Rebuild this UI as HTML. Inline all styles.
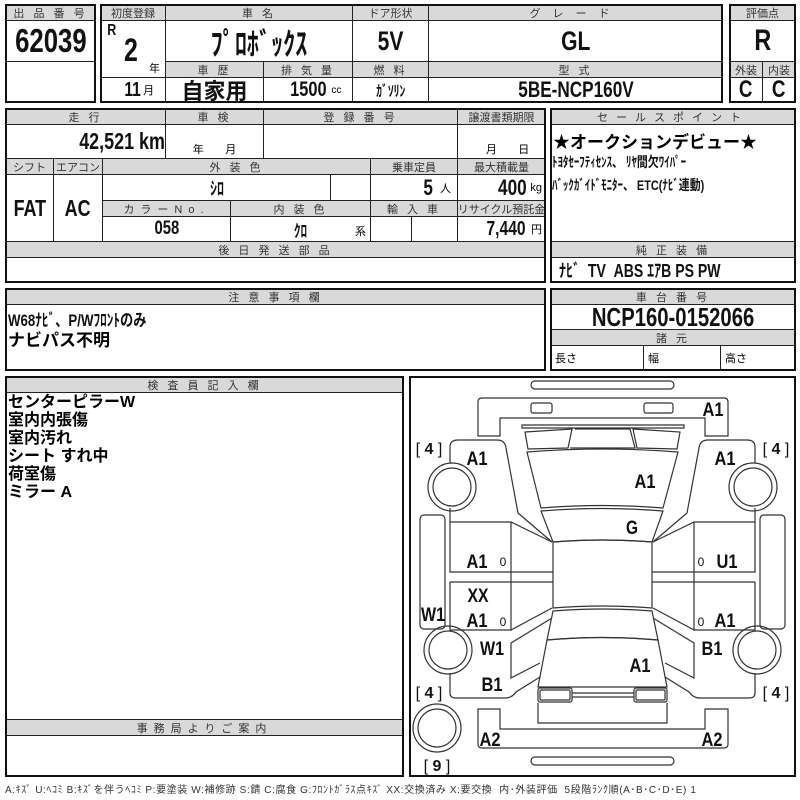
<!DOCTYPE html>
<html><head><meta charset="utf-8"><style>
body{margin:0;background:#fff;width:800px;height:800px;position:relative;overflow:hidden;font-family:"Liberation Sans","Noto Sans CJK JP",sans-serif;}
.c,.h{position:absolute;box-sizing:border-box;border:1px solid #222;display:flex;align-items:center;justify-content:center;white-space:nowrap;}
.h{background:#d9d9d9;font-size:11px;color:#333;letter-spacing:3px;}
.f{position:absolute;box-sizing:border-box;border:2px solid #111;}
.b{font-weight:bold;color:#111;}
i{font-style:normal;display:inline-block;transform:scaleX(.78);}
.t{position:absolute;white-space:nowrap;}
</style></head><body>
<!-- block1 -->
<div class="h" style="left:5px;top:4px;width:91px;height:17px">出 品 番 号</div>
<div class="c b" style="left:5px;top:20px;width:91px;height:42px;font-size:33px"><i>62039</i></div>
<div class="c" style="left:5px;top:61px;width:91px;height:42px"></div>
<div class="f" style="left:5px;top:4px;width:91px;height:99px"></div>
<!-- block2 -->
<div class="h" style="left:100px;top:4px;width:66px;height:17px;letter-spacing:0">初度登録</div>
<div class="h" style="left:165px;top:4px;width:188px;height:17px">車 名</div>
<div class="h" style="left:352px;top:4px;width:77px;height:17px;letter-spacing:0">ドア形状</div>
<div class="h" style="left:428px;top:4px;width:295px;height:17px;letter-spacing:12px">グレード</div>
<div class="c" style="left:100px;top:20px;width:66px;height:58px"></div>
<div class="t b" style="left:106px;top:22px;font-size:16px"><i>R</i></div>
<div class="t b" style="left:122px;top:32px;font-size:32px"><i>2</i></div>
<div class="t" style="left:149px;top:60px;font-size:11px">年</div>
<div class="c b" style="left:165px;top:20px;width:188px;height:42px;font-size:31px"><i>ﾌﾟﾛﾎﾞｯｸｽ</i></div>
<div class="c b" style="left:352px;top:20px;width:77px;height:42px;font-size:27px"><i>5V</i></div>
<div class="c b" style="left:428px;top:20px;width:295px;height:42px;font-size:27px"><i>GL</i></div>
<div class="h" style="left:165px;top:61px;width:99px;height:17px">車 歴</div>
<div class="h" style="left:263px;top:61px;width:90px;height:17px">排 気 量</div>
<div class="h" style="left:352px;top:61px;width:77px;height:17px">燃 料</div>
<div class="h" style="left:428px;top:61px;width:295px;height:17px">型 式</div>
<div class="c" style="left:100px;top:77px;width:66px;height:26px;padding-left:10px"><span class="b" style="font-size:20px"><i>11</i></span><span style="font-size:11px">月</span></div>
<div class="c b" style="left:165px;top:77px;width:99px;height:26px;font-size:22px">自家用</div>
<div class="c" style="left:263px;top:77px;width:90px;height:26px;padding-left:10px"><span class="b" style="font-size:21px"><i>1500</i></span><span style="font-size:10px">cc</span></div>
<div class="c b" style="left:352px;top:77px;width:77px;height:26px;font-size:15px"><i>ｶﾞｿﾘﾝ</i></div>
<div class="c b" style="left:428px;top:77px;width:295px;height:26px;font-size:22px"><i>5BE-NCP160V</i></div>
<div class="f" style="left:100px;top:4px;width:623px;height:99px"></div>
<!-- block3 -->
<div class="h" style="left:729px;top:4px;width:67px;height:17px;letter-spacing:0">評価点</div>
<div class="c b" style="left:729px;top:20px;width:67px;height:42px;font-size:30px"><i>R</i></div>
<div class="h" style="left:729px;top:61px;width:34px;height:17px;letter-spacing:0">外装</div>
<div class="h" style="left:762px;top:61px;width:34px;height:17px;letter-spacing:0">内装</div>
<div class="c b" style="left:729px;top:77px;width:34px;height:26px;font-size:24px"><i>C</i></div>
<div class="c b" style="left:762px;top:77px;width:34px;height:26px;font-size:24px"><i>C</i></div>
<div class="f" style="left:729px;top:4px;width:67px;height:99px"></div>
<!-- section2 -->
<div class="h" style="left:5px;top:108px;width:161px;height:17px">走 行</div>
<div class="h" style="left:165px;top:108px;width:99px;height:17px">車 検</div>
<div class="h" style="left:263px;top:108px;width:195px;height:17px">登 録 番 号</div>
<div class="h" style="left:457px;top:108px;width:89px;height:17px;letter-spacing:0">譲渡書類期限</div>
<div class="c" style="left:5px;top:124px;width:161px;height:35px;justify-content:flex-end;padding-right:0"><span class="b" style="font-size:23px"><i style="transform-origin:right">42,521 km</i></span></div>
<div class="c" style="left:165px;top:124px;width:99px;height:35px;align-items:flex-end;font-size:11px;padding-bottom:1px">年&nbsp;&nbsp;&nbsp;&nbsp;&nbsp;&nbsp;&nbsp;月</div>
<div class="c" style="left:263px;top:124px;width:195px;height:35px"></div>
<div class="c" style="left:457px;top:124px;width:89px;height:35px;align-items:flex-end;font-size:11px;padding-bottom:1px">&nbsp;&nbsp;&nbsp;&nbsp;月&nbsp;&nbsp;&nbsp;&nbsp;&nbsp;&nbsp;&nbsp;日</div>
<div class="h" style="left:5px;top:158px;width:49px;height:17px;letter-spacing:0">シフト</div>
<div class="h" style="left:53px;top:158px;width:50px;height:17px;letter-spacing:0">エアコン</div>
<div class="h" style="left:102px;top:158px;width:269px;height:17px">外 装 色</div>
<div class="h" style="left:370px;top:158px;width:88px;height:17px;letter-spacing:0">乗車定員</div>
<div class="h" style="left:457px;top:158px;width:89px;height:17px;letter-spacing:0">最大積載量</div>
<div class="c b" style="left:5px;top:174px;width:49px;height:68px;font-size:23px"><i>FAT</i></div>
<div class="c b" style="left:53px;top:174px;width:50px;height:68px;font-size:23px"><i>AC</i></div>
<div class="c b" style="left:102px;top:174px;width:229px;height:27px;font-size:18px"><i>ｼﾛ</i></div>
<div class="c" style="left:330px;top:174px;width:41px;height:27px"></div>
<div class="c" style="left:370px;top:174px;width:88px;height:27px;justify-content:flex-end;padding-right:6px"><span class="b" style="font-size:22px"><i>5</i></span><span style="font-size:11px">&nbsp;&nbsp;人</span></div>
<div class="c" style="left:457px;top:174px;width:89px;height:27px;justify-content:flex-end;padding-right:3px"><span class="b" style="font-size:22px"><i>400</i></span><span style="font-size:11px">kg</span></div>
<div class="h" style="left:102px;top:200px;width:129px;height:17px;letter-spacing:6px">カラーNo.</div>
<div class="h" style="left:230px;top:200px;width:141px;height:17px">内 装 色</div>
<div class="h" style="left:370px;top:200px;width:88px;height:17px">輸 入 車</div>
<div class="h" style="left:457px;top:200px;width:89px;height:17px;letter-spacing:0">リサイクル預託金</div>
<div class="c b" style="left:102px;top:216px;width:129px;height:26px;font-size:19px"><i>058</i></div>
<div class="c" style="left:230px;top:216px;width:141px;height:26px"><span class="b" style="font-size:17px"><i>ｸﾛ</i></span><span style="position:absolute;right:4px;bottom:2px;font-size:11px">系</span></div>
<div class="c" style="left:370px;top:216px;width:42px;height:26px"></div>
<div class="c" style="left:411px;top:216px;width:47px;height:26px"></div>
<div class="c" style="left:457px;top:216px;width:89px;height:26px;justify-content:flex-end;padding-right:3px"><span class="b" style="font-size:20px"><i>7,440</i></span><span style="font-size:11px">円</span></div>
<div class="h" style="left:5px;top:241px;width:541px;height:17px">後 日 発 送 部 品</div>
<div class="c" style="left:5px;top:257px;width:541px;height:26px"></div>
<div class="f" style="left:5px;top:108px;width:541px;height:175px"></div>
<!-- sales point -->
<div class="h" style="left:550px;top:108px;width:246px;height:17px;letter-spacing:8px">セールスポイント</div>
<div class="c" style="left:550px;top:124px;width:246px;height:118px"></div>
<div class="t" style="left:553px;top:128px;font-size:17px;font-weight:bold">★オークションデビュー★</div>
<div class="t b" style="left:552px;top:152px;font-size:14px"><i style="transform-origin:left">ﾄﾖﾀｾｰﾌﾃｨｾﾝｽ、 ﾘﾔ間欠ﾜｲﾊﾟｰ</i></div>
<div class="t b" style="left:552px;top:175px;font-size:14px"><i style="transform-origin:left">ﾊﾞｯｸｶﾞｲﾄﾞﾓﾆﾀｰ、 ETC(ﾅﾋﾞ連動)</i></div>
<div class="h" style="left:550px;top:241px;width:246px;height:17px">純 正 装 備</div>
<div class="c" style="left:550px;top:257px;width:246px;height:26px;justify-content:flex-start;padding-left:8px"><span class="b" style="font-size:18px"><i style="transform-origin:left">ﾅﾋﾞ&nbsp;&nbsp;TV&nbsp;&nbsp;ABS&nbsp;ｴｱB&nbsp;PS&nbsp;PW</i></span></div>
<div class="f" style="left:550px;top:108px;width:246px;height:175px"></div>
<!-- section3 -->
<div class="h" style="left:5px;top:288px;width:541px;height:17px">注 意 事 項 欄</div>
<div class="c" style="left:5px;top:304px;width:541px;height:67px"></div>
<div class="t b" style="left:8px;top:306px;font-size:17px"><i style="transform-origin:left">W68ﾅﾋﾞ、P/Wﾌﾛﾝﾄのみ</i></div>
<div class="t" style="left:8px;top:326px;font-size:17px;font-weight:bold">ナビパス不明</div>
<div class="f" style="left:5px;top:288px;width:541px;height:83px"></div>
<div class="h" style="left:550px;top:288px;width:246px;height:17px">車 台 番 号</div>
<div class="c b" style="left:550px;top:304px;width:246px;height:26px;font-size:26px"><i>NCP160-0152066</i></div>
<div class="h" style="left:550px;top:329px;width:246px;height:17px">諸 元</div>
<div class="c" style="left:550px;top:345px;width:94px;height:26px;justify-content:flex-start;padding-left:4px;font-size:11px">長さ</div>
<div class="c" style="left:643px;top:345px;width:78px;height:26px;justify-content:flex-start;padding-left:4px;font-size:11px">幅</div>
<div class="c" style="left:720px;top:345px;width:76px;height:26px;justify-content:flex-start;padding-left:4px;font-size:11px">高さ</div>
<div class="f" style="left:550px;top:288px;width:246px;height:83px"></div>
<!-- section4 -->
<div class="h" style="left:5px;top:376px;width:399px;height:17px">検 査 員 記 入 欄</div>
<div class="t" style="left:8px;top:394px;font-size:16px;line-height:18px;font-weight:bold">センターピラーW<br>室内内張傷<br>室内汚れ<br>シート すれ中<br>荷室傷<br>ミラー A</div>
<div class="h" style="left:5px;top:719px;width:399px;height:17px;letter-spacing:6px">事務局よりご案内</div>
<div class="f" style="left:5px;top:376px;width:399px;height:401px"></div>
<div class="f" style="left:409px;top:376px;width:387px;height:401px"></div>
<div class="t" style="left:5px;top:781px;font-size:10px;color:#333;letter-spacing:0.6px">A:ｷｽﾞ U:ﾍｺﾐ B:ｷｽﾞを伴うﾍｺﾐ P:要塗装 W:補修跡 S:錆 C:腐食 G:ﾌﾛﾝﾄｶﾞﾗｽ点ｷｽﾞ XX:交換済み X:要交換 &nbsp;内･外装評価 &nbsp;5段階ﾗﾝｸ順(A･B･C･D･E) 1</div>
<svg style="position:absolute;left:0;top:0" width="800" height="800" viewBox="0 0 800 800">
<g fill="none" stroke="#333" stroke-width="1.2">
<rect x="531" y="381" width="143" height="8" rx="4"/>
<path d="M478,436 V402 Q478,398 482,398 H724 Q728,398 728,402 V436 H705 V418 H500 V436 Z"/>
<rect x="531" y="403" width="21" height="10" rx="2"/>
<rect x="644" y="403" width="29" height="10" rx="2"/>
<path d="M522,425 L684,425 L684,428 L522,428 Z"/>
<path d="M525,432 L572,429 L568,448 L528,449 Z"/>
<path d="M633,429 L680,432 L677,449 L637,448 Z"/>
<path d="M575,429 L630,429 L635,448 L570,448"/>
<path d="M527,452 Q603,446 678,452 L663,508 Q603,503 541,508 Z"/>
<path d="M541,511 Q603,506 663,511 L652,542 Q603,538 553,542 Z"/>
<path d="M553,542 Q603,538 652,542 L652,608 Q603,604 553,608 Z"/>
<path d="M553,611 Q603,607 652,611 L658,640 Q603,635 547,640 Z"/>
<path d="M547,640 Q603,635 658,640 L667,687 H538 Z"/>
<rect x="538" y="688" width="34" height="14" rx="2"/><rect x="540" y="690" width="30" height="10" rx="1"/>
<rect x="634" y="688" width="33" height="14" rx="2"/><rect x="636" y="690" width="29" height="10" rx="1"/>
<path d="M572,693 H634 M572,697 H634"/>
<path d="M538,703 V723 H667 V703"/>
<path d="M478,709 V744 Q478,748 482,748 H724 Q728,748 728,744 V709 H705 V729 H500 V709 Z"/>
<rect x="531" y="757" width="143" height="8" rx="4"/>
<circle cx="437" cy="728" r="24"/><circle cx="437" cy="728" r="19"/>
<g id="side">
<path d="M450,463 V447 Q450,440 458,440 H497 Q505,440 506,448 L518,513 L552,542"/>
<path d="M450,508 V522 H511 L552,542"/>
<path d="M450,522 V572 H553 M450,582 H553 M450,582 V630 H511 M511,522 V630 L552,608"/>
<path d="M552,618 L511,643 V678 L540,663"/>
<path d="M450,673 V693 Q450,698 456,698 H505 Q512,698 516,692 L540,677"/>
<rect x="420" y="515" width="25" height="114" rx="4"/>
<circle cx="452" cy="487" r="24"/><circle cx="452" cy="487" r="19"/>
<circle cx="448" cy="650" r="24"/><circle cx="448" cy="650" r="19"/>
</g>
<use href="#side" transform="translate(1205,0) scale(-1,1)"/>
</g>
<g font-family="'Liberation Sans',sans-serif" font-weight="bold" font-size="19" fill="#111" text-anchor="middle">
<text x="713" y="416" textLength="21" lengthAdjust="spacingAndGlyphs">A1</text>
<text x="477" y="465" textLength="21" lengthAdjust="spacingAndGlyphs">A1</text><text x="725" y="465" textLength="21" lengthAdjust="spacingAndGlyphs">A1</text>
<text x="645" y="488" textLength="21" lengthAdjust="spacingAndGlyphs">A1</text>
<text x="632" y="534" textLength="12" lengthAdjust="spacingAndGlyphs">G</text>
<text x="477" y="568" textLength="21" lengthAdjust="spacingAndGlyphs">A1</text><text x="727" y="568" textLength="21" lengthAdjust="spacingAndGlyphs">U1</text>
<text x="478" y="602" textLength="21" lengthAdjust="spacingAndGlyphs">XX</text>
<text x="433" y="621" textLength="24" lengthAdjust="spacingAndGlyphs">W1</text>
<text x="477" y="627" textLength="21" lengthAdjust="spacingAndGlyphs">A1</text><text x="725" y="627" textLength="21" lengthAdjust="spacingAndGlyphs">A1</text>
<text x="492" y="655" textLength="24" lengthAdjust="spacingAndGlyphs">W1</text><text x="712" y="655" textLength="21" lengthAdjust="spacingAndGlyphs">B1</text>
<text x="640" y="672" textLength="21" lengthAdjust="spacingAndGlyphs">A1</text>
<text x="492" y="691" textLength="21" lengthAdjust="spacingAndGlyphs">B1</text>
<text x="490" y="746" textLength="21" lengthAdjust="spacingAndGlyphs">A2</text><text x="712" y="746" textLength="21" lengthAdjust="spacingAndGlyphs">A2</text>
<g font-weight="normal" font-size="12"><text x="503" y="566">0</text><text x="701" y="566">0</text>
<text x="503" y="626">0</text><text x="701" y="626">0</text></g>
</g>
<g font-family="'Liberation Sans',sans-serif" font-size="16" fill="#111" text-anchor="middle">
<text x="429" y="454">[ <tspan font-weight="bold">4</tspan> ]</text>
<text x="776" y="454">[ <tspan font-weight="bold">4</tspan> ]</text>
<text x="429" y="698">[ <tspan font-weight="bold">4</tspan> ]</text>
<text x="776" y="698">[ <tspan font-weight="bold">4</tspan> ]</text>
<text x="437" y="771">[ <tspan font-weight="bold">9</tspan> ]</text>
</g>
</svg>
</body></html>
